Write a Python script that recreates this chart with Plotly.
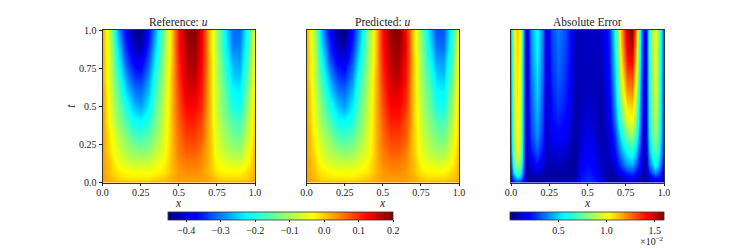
import plotly.graph_objects as go

FONT = "Liberation Serif"
W, H = 747, 249

x_u = [0, .05, .1, .15, .2, .25, .3, .35, .4, .45, .5, .55, .6, .65, .7, .75, .8, .85, .9, .95, 1]
t_u = [0, .03, .07, .12, .2, .3, .4, .5, .6, .7, .8, .9, 1]

reference_u = [
 [.03,.02,.02,.02,.02,.02,.02,.02,.02,.02,.03,.03,.03,.03,.02,.02,.02,.02,.02,.02,.03],
 [.03,.01,-.01,-.02,-.02,-.02,-.02,-.01,.0,.02,.03,.03,.03,.03,.02,.0,-.01,-.01,-.01,.0,.02],
 [.03,.0,-.02,-.03,-.04,-.04,-.04,-.03,-.02,.01,.03,.04,.04,.03,.01,-.02,-.03,-.03,-.03,-.01,.02],
 [.03,.0,-.04,-.06,-.07,-.07,-.07,-.05,-.03,.01,.04,.05,.05,.04,.01,-.03,-.05,-.06,-.06,-.03,.02],
 [.03,-.02,-.06,-.09,-.11,-.12,-.11,-.08,-.05,.01,.05,.07,.07,.05,.01,-.05,-.08,-.10,-.10,-.05,.02],
 [.03,-.03,-.08,-.12,-.16,-.17,-.15,-.11,-.06,.01,.06,.09,.09,.07,.01,-.06,-.10,-.13,-.14,-.07,.01],
 [.03,-.05,-.11,-.16,-.21,-.22,-.19,-.13,-.07,.01,.07,.11,.11,.08,.01,-.07,-.12,-.16,-.17,-.09,.01],
 [.03,-.06,-.13,-.20,-.26,-.28,-.23,-.15,-.08,.01,.08,.13,.13,.10,.01,-.08,-.14,-.20,-.21,-.11,.01],
 [.03,-.07,-.15,-.24,-.30,-.31,-.26,-.17,-.09,.01,.09,.15,.15,.11,.01,-.08,-.15,-.22,-.23,-.13,.0],
 [.02,-.08,-.18,-.28,-.34,-.35,-.29,-.19,-.10,.01,.10,.16,.17,.12,.01,-.09,-.17,-.25,-.26,-.15,.0],
 [.02,-.08,-.21,-.32,-.38,-.39,-.32,-.22,-.11,.0,.11,.17,.18,.13,.01,-.09,-.19,-.27,-.28,-.17,-.01],
 [.02,-.09,-.24,-.35,-.42,-.43,-.35,-.25,-.12,.0,.12,.18,.19,.14,.0,-.10,-.21,-.30,-.30,-.19,-.01],
 [.02,-.10,-.27,-.38,-.44,-.45,-.37,-.27,-.13,.0,.12,.19,.20,.14,.0,-.10,-.22,-.31,-.31,-.20,-.02],
]

predicted_u = [
 [.03,.02,.02,.02,.02,.02,.02,.02,.02,.02,.03,.03,.03,.03,.02,.02,.02,.02,.02,.02,.03],
 [.03,.01,-.01,-.02,-.02,-.02,-.02,-.01,.0,.02,.03,.03,.03,.03,.02,.0,-.01,-.01,-.01,.0,.02],
 [.03,.0,-.02,-.03,-.04,-.04,-.04,-.03,-.02,.01,.03,.04,.04,.03,.01,-.02,-.03,-.03,-.03,-.01,.02],
 [.03,.0,-.04,-.06,-.07,-.07,-.07,-.05,-.03,.01,.04,.05,.05,.04,.01,-.03,-.05,-.06,-.06,-.03,.02],
 [.03,-.02,-.06,-.09,-.11,-.12,-.11,-.08,-.05,.01,.05,.07,.07,.05,.0,-.05,-.08,-.10,-.10,-.05,.02],
 [.03,-.03,-.08,-.12,-.16,-.17,-.15,-.11,-.06,.01,.06,.09,.09,.07,.0,-.06,-.10,-.13,-.14,-.07,.01],
 [.03,-.05,-.11,-.16,-.21,-.22,-.19,-.13,-.07,.01,.07,.11,.11,.08,.0,-.07,-.12,-.16,-.17,-.09,.01],
 [.03,-.06,-.13,-.20,-.26,-.28,-.23,-.15,-.08,.01,.08,.13,.13,.10,.0,-.08,-.14,-.20,-.21,-.11,.01],
 [.03,-.07,-.15,-.24,-.30,-.31,-.26,-.17,-.09,.01,.09,.15,.15,.11,.0,-.09,-.15,-.22,-.23,-.13,.0],
 [.02,-.08,-.18,-.28,-.34,-.35,-.29,-.19,-.10,.01,.10,.16,.17,.12,.0,-.10,-.17,-.25,-.26,-.15,.0],
 [.02,-.08,-.21,-.32,-.38,-.39,-.32,-.22,-.11,.0,.11,.17,.18,.13,.0,-.10,-.20,-.28,-.28,-.17,-.01],
 [.02,-.09,-.24,-.35,-.42,-.43,-.35,-.25,-.12,.0,.12,.18,.19,.14,-.01,-.11,-.22,-.31,-.31,-.19,-.01],
 [.02,-.10,-.27,-.38,-.44,-.45,-.37,-.27,-.13,.0,.12,.19,.20,.13,-.01,-.12,-.24,-.33,-.32,-.21,-.02],
]

x_e = [0, .02, .04, .06, .08, .1, .13, .17, .21, .23, .27, .31, .36, .42, .46, .5, .54, .58, .64, .68, .72, .76, .79, .82, .85, .875, .9, .94, .97, 1]
t_e = [0, .03, .07, .12, .2, .3, .4, .5, .6, .7, .8, .9, 1]

absolute_error = [
 [.15,.20,.22,.20,.14,.08,.06,.05,.08,.10,.12,.12,.14,.14,.24,.26,.24,.16,.06,.10,.08,.08,.10,.10,.08,.05,.07,.12,.12,.10],
 [.20,.36,.48,.44,.24,.05,.03,.05,.05,.04,.04,.04,.04,.04,.23,.25,.23,.14,.03,.04,.08,.13,.15,.12,.06,.03,.12,.22,.18,.10],
 [.26,.58,.72,.64,.34,.06,.08,.12,.08,.04,.05,.06,.05,.04,.20,.23,.20,.12,.04,.09,.20,.28,.30,.23,.11,.03,.24,.42,.32,.12],
 [.32,.72,.88,.78,.40,.07,.15,.22,.13,.06,.07,.08,.06,.03,.17,.21,.18,.10,.06,.14,.30,.43,.46,.34,.15,.03,.36,.62,.46,.15],
 [.38,.84,.98,.88,.44,.07,.22,.32,.19,.08,.11,.13,.10,.03,.14,.18,.15,.08,.09,.21,.42,.58,.62,.47,.20,.03,.46,.76,.56,.18],
 [.42,.90,1.02,.93,.46,.07,.28,.40,.24,.09,.16,.19,.15,.04,.12,.15,.13,.06,.12,.28,.56,.78,.82,.64,.26,.03,.54,.87,.63,.20],
 [.44,.92,1.03,.94,.47,.07,.31,.44,.27,.10,.20,.24,.19,.05,.10,.13,.10,.05,.14,.36,.72,.96,1.0,.78,.30,.03,.58,.93,.67,.21],
 [.45,.94,1.05,.95,.47,.07,.33,.47,.29,.10,.22,.28,.22,.06,.09,.11,.09,.05,.16,.42,.82,1.08,1.10,.86,.32,.03,.60,.97,.69,.22],
 [.46,.95,1.07,.96,.48,.07,.35,.50,.30,.11,.24,.31,.24,.06,.08,.09,.08,.06,.18,.46,.92,1.20,1.22,.94,.34,.03,.62,1.0,.71,.23],
 [.47,.96,1.08,.98,.48,.07,.37,.52,.32,.11,.26,.33,.26,.07,.08,.08,.08,.07,.20,.50,1.0,1.30,1.32,1.02,.37,.03,.63,1.01,.72,.23],
 [.48,.97,1.09,.99,.48,.07,.39,.55,.33,.11,.27,.35,.27,.07,.08,.09,.08,.08,.22,.54,1.06,1.40,1.44,1.08,.40,.03,.64,1.03,.73,.24],
 [.49,.98,1.10,1.0,.49,.07,.40,.57,.34,.12,.29,.36,.29,.08,.08,.09,.09,.09,.23,.57,1.11,1.47,1.53,1.14,.43,.03,.65,1.04,.74,.25],
 [.50,1.0,1.12,1.0,.49,.07,.42,.58,.35,.12,.30,.38,.30,.08,.09,.10,.10,.10,.25,.60,1.15,1.52,1.60,1.20,.45,.03,.65,1.05,.75,.25],
]

x_ticks = [0, .25, .5, .75, 1]
x_tick_labels = ["0.0", "0.25", "0.5", "0.75", "1.0"]
u_ticks = [-.4, -.3, -.2, -.1, 0, .1, .2]
u_tick_labels = ["−0.4", "−0.3", "−0.2", "−0.1", "0.0", "0.1", "0.2"]
err_ticks = [.5, 1, 1.5]
err_tick_labels = ["0.5", "1.0", "1.5"]
titles = ["Reference: <i>u</i>", "Predicted: <i>u</i>", "Absolute Error"]

JET = [[0, "#00007f"], [.11, "#0000ff"], [.125, "#0000ff"], [.35, "#00ffff"], [.375, "#0dfff2"],
       [.64, "#ffff00"], [.66, "#ffee00"], [.89, "#ff0000"], [.91, "#ee0000"], [1, "#7f0000"]]

fig = go.Figure()
fig.add_trace(go.Heatmap(x=x_u, y=t_u, z=reference_u, coloraxis="coloraxis", zsmooth="best", xaxis="x", yaxis="y"))
fig.add_trace(go.Heatmap(x=x_u, y=t_u, z=predicted_u, coloraxis="coloraxis", zsmooth="best", xaxis="x2", yaxis="y2"))
fig.add_trace(go.Heatmap(x=x_e, y=t_e, z=absolute_error, coloraxis="coloraxis2", zsmooth="best", xaxis="x3", yaxis="y3"))

L = [102.5, 306.5, 511]
R = [255, 459, 664]
TOP, BOT = 30, 182.5
tf = dict(family=FONT, size=10, color="#222")
lf = dict(family=FONT, size=11.5, color="#222")

def axes(i):
    xa = dict(domain=[L[i] / W, R[i] / W], range=[0, 1], tickvals=x_ticks, ticktext=x_tick_labels,
              ticks="outside", ticklen=3, tickwidth=.8, tickcolor="#222", tickfont=tf, ticklabelstandoff=-2,
              showline=True, mirror=True, linecolor="#333", linewidth=.8, showgrid=False, zeroline=False,
              tickangle=0, automargin=False)
    ya = dict(domain=[1 - BOT / H, 1 - TOP / H], range=[0, 1], ticks="outside", ticklen=3, tickwidth=.8,
              tickcolor="#222", tickfont=tf, showline=True, mirror=True, linecolor="#333", linewidth=.8,
              showgrid=False, zeroline=False, automargin=False, tickvals=x_ticks, ticktext=x_tick_labels,
              showticklabels=(i == 0))
    if i == 0:
        ya["title"] = dict(text="<i>t</i>", font=lf, standoff=1)
    else:
        ya["ticks"] = ""
    return xa, ya

layout = {}
for i in range(3):
    xa, ya = axes(i)
    s = "" if i == 0 else str(i + 1)
    xa["anchor"] = "y" + s
    ya["anchor"] = "x" + s
    layout["xaxis" + s] = xa
    layout["yaxis" + s] = ya

def cbar(x0, x1, vals, text):
    return dict(orientation="h", xref="paper", yref="paper", x=x0 / W, xanchor="left",
                y=1 - 211.5 / H, yanchor="top", len=x1 - x0, lenmode="pixels", thickness=8,
                thicknessmode="pixels", xpad=0, ypad=0, outlinewidth=.8, outlinecolor="#333",
                tickvals=vals, ticktext=text, ticks="outside", ticklen=2, tickwidth=.8,
                tickcolor="#222", tickfont=tf, tickangle=0)

annots = [dict(text=titles[i], x=(L[i] + R[i]) / 2 / W, y=1 - 29 / H, xref="paper", yref="paper",
               xanchor="center", yanchor="bottom", showarrow=False, borderpad=0, font=lf)
          for i in range(3)]
annots += [dict(text="<i>x</i>", x=(L[i] + R[i]) / 2 / W, y=1 - 203 / H, xref="paper", yref="paper",
                xanchor="center", yanchor="middle", showarrow=False, borderpad=0, font=lf)
           for i in range(3)]
annots.append(dict(text="×10<sup>−2</sup>", x=665 / W, y=1 - 234 / H, xref="paper", yref="paper",
                   xanchor="right", yanchor="top", showarrow=False, borderpad=0, font=tf))

fig.update_layout(
    width=W, height=H, margin=dict(l=0, r=0, t=0, b=0), paper_bgcolor="white", plot_bgcolor="white",
    font=dict(family=FONT, size=10, color="#222"), showlegend=False, annotations=annots,
    coloraxis=dict(cmin=-.452, cmax=.2, colorscale=JET, colorbar=cbar(168.3, 393.3, u_ticks, u_tick_labels)),
    coloraxis2=dict(cmin=0, cmax=1.6, colorscale=JET, colorbar=cbar(510.3, 664.3, err_ticks, err_tick_labels)),
    **layout)

fig.write_html("out.html", config={"displayModeBar": False},
               post_script="document.body.style.margin='0';document.body.style.overflow='hidden';")
